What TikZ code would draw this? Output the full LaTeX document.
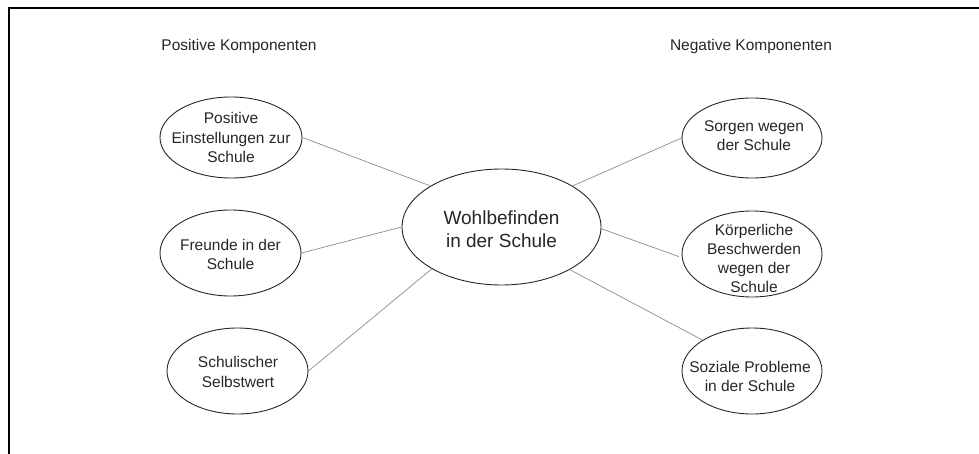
\documentclass[tikz,border=0pt]{standalone}
\usepackage{fontspec}
\setmainfont{Liberation Sans}
\usetikzlibrary{shapes.geometric}
\begin{document}
\begin{tikzpicture}[x=1pt,y=-1pt,
  ell/.style={draw=black!85,line width=0.9pt,ellipse,inner sep=0pt},
  txt/.style={align=center,inner sep=0pt,font=\fontsize{15.5}{19.2}\selectfont,text=black!85},
  bigtxt/.style={align=center,inner sep=0pt,font=\fontsize{19}{23.5}\selectfont,text=black!85},
  head/.style={inner sep=0pt,font=\fontsize{15.5}{19}\selectfont,text=black!85},
  conn/.style={draw=black!45,line width=0.7pt},
  frame/.style={draw=black,line width=1.3pt}]
\useasboundingbox (0,0) rectangle (979,454);
% frame
\coordinate (fbl) at (9,454);
\coordinate (ftl) at (9,8);
\coordinate (ftr) at (979,8);
\draw[frame] (fbl) -- (ftl) -- (ftr);
% headers
\node[head] (hpos) at (239,46) {Positive Komponenten};
\node[head] (hneg) at (751,46) {Negative Komponenten};
% ellipses
\node[ell,minimum width=142,minimum height=81] (pos) at (231,137.5) {};
\node[ell,minimum width=141,minimum height=86] (fre) at (230.5,253) {};
\node[ell,minimum width=141,minimum height=86] (sch) at (237.5,371) {};
\node[ell,minimum width=140,minimum height=80] (sor) at (752,138) {};
\node[ell,minimum width=140,minimum height=86] (koe) at (752,254) {};
\node[ell,minimum width=140,minimum height=86] (soz) at (752,371) {};
\node[ell,minimum width=199,minimum height=116] (wb) at (501.5,227) {};
% texts
\node[txt] (tpos) at (231,137.5) {Positive\\Einstellungen zur\\Schule};
\node[txt] (tfre) at (230.5,254.5) {Freunde in der\\Schule};
\node[txt] (tsch) at (238,372) {Schulischer\\Selbstwert};
\node[txt] (tsor) at (754,135.5) {Sorgen wegen\\der Schule};
\node[txt] (tkoe) at (754,258.5) {K\"orperliche\\Beschwerden\\wegen der\\Schule};
\node[txt] (tsoz) at (750,376.5) {Soziale Probleme\\in der Schule};
\node[bigtxt] (twb) at (501.5,229) {Wohlbefinden\\in der Schule};
% connectors
\draw[conn] (pos.east) -- (wb.150);
\draw[conn] (fre.east) -- (wb.180);
\draw[conn] (sch.east) -- (wb.211);
\draw[conn] (wb.30) -- (sor.west);
\draw[conn,shorten >=3pt] (wb.359) -- (koe.183);
\draw[conn] (wb.328) -- (soz.148);
\end{tikzpicture}
\end{document}
